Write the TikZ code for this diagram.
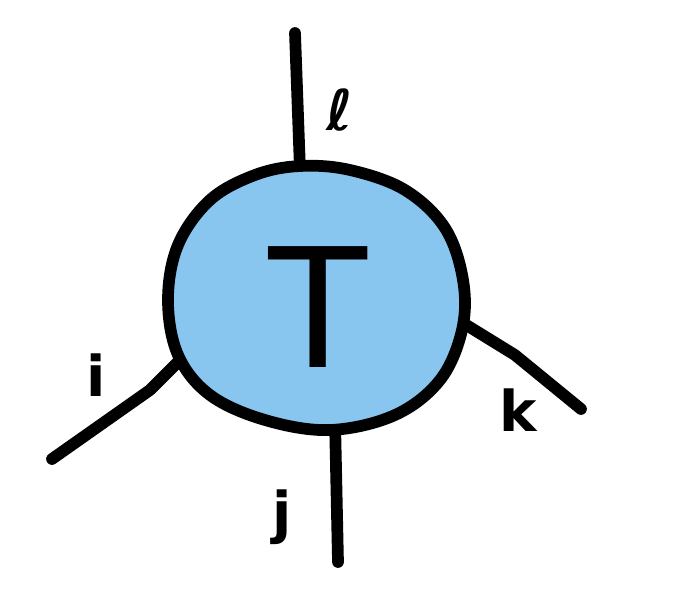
\documentclass[tikz,border=0pt]{standalone}
\usepackage{fontspec}
\setmainfont{Liberation Sans}
\newfontfamily\lblfont{DejaVu Sans}
\definecolor{tblue}{HTML}{88C6F0}
\begin{document}
\begin{tikzpicture}[x=0.03cm,y=-0.03cm,
  leg/.style={line width=10pt,line cap=round,line join=round},
  lbl/.style={font=\lblfont\fontsize{48}{50}\selectfont\bfseries,inner sep=0pt}]
\useasboundingbox (0,0) rectangle (676,608);
% legs
\coordinate (lend) at (295,33);
\coordinate (ltop) at (300,170);
\coordinate (iend) at (52,459);
\coordinate (imid) at (150,390);
\coordinate (iin) at (190,350);
\coordinate (jin) at (335,420);
\coordinate (jend) at (338,562);
\coordinate (kin) at (455,318);
\coordinate (kmid) at (515,355);
\coordinate (kend) at (581,409);
\draw[leg] (lend) -- (ltop);
\draw[leg] (iend) -- (imid) -- (iin);
\draw[leg] (jin) -- (jend);
\draw[leg] (kin) -- (kmid) -- (kend);
% tensor body
\draw[leg,fill=tblue] plot[smooth cycle,tension=0.6] coordinates {
 (300,166) (350,170) (405,190) (445,228) (463,280) (462,330)
 (440,380) (395,415) (330,430) (265,420) (210,395) (178,355)
 (168,300) (178,245) (210,200) (255,175)};
\node[inner sep=0pt] (T) at (318,307) {\fontsize{150}{150}\selectfont T};
% labels
\node[lbl] (i) at (96,375) {i};
\node[lbl] (j) at (282,517) {j};
\node[lbl] (k) at (518,410) {k};
\node[lbl] (l) at (340,110) {ℓ};
\end{tikzpicture}
\end{document}
